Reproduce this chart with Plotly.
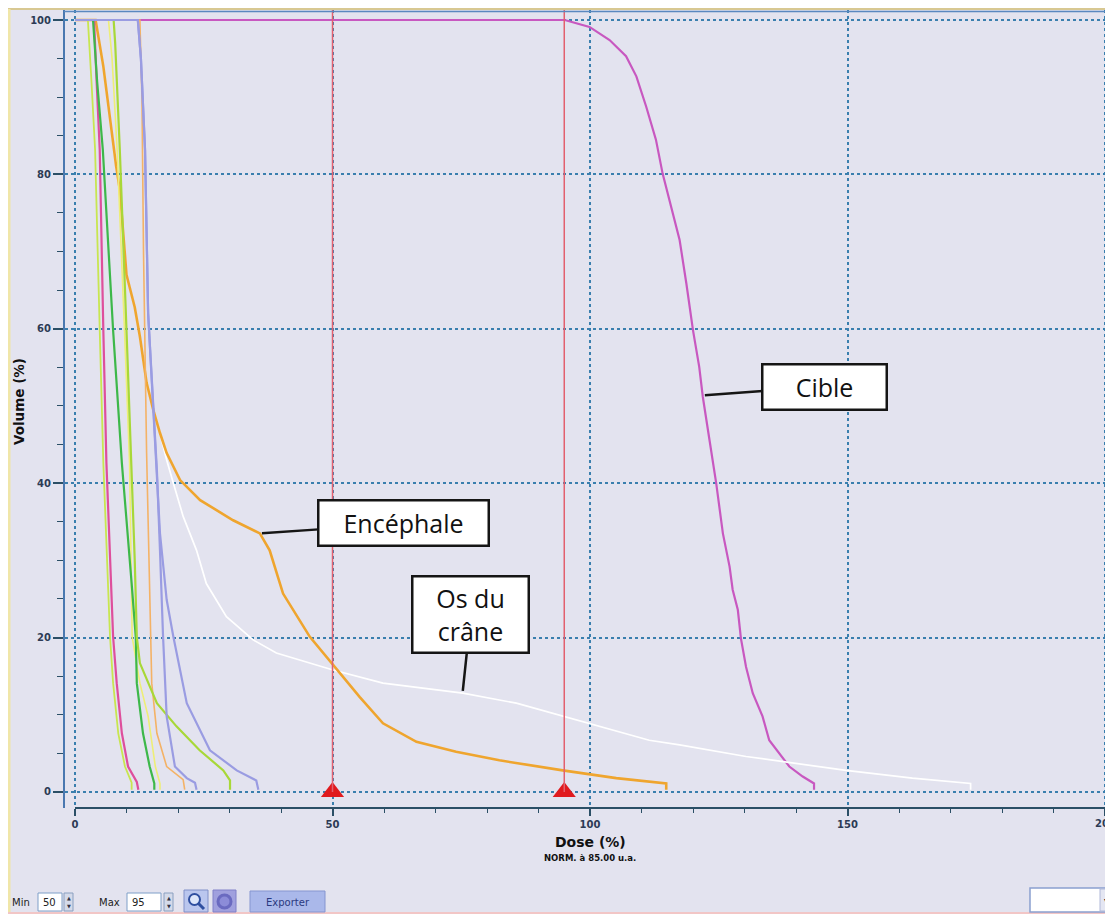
import plotly.graph_objects as go

# ---------------- data ----------------
cible_dose = [0, 95.1, 99.9, 103.8, 107.0, 109.0, 110.9, 112.8, 114.1, 115.4, 117.4, 118.7, 120.0,
              121.2, 121.9, 123.2, 124.5, 125.8, 127.1, 127.7, 128.7, 129.3, 130.3, 131.6, 133.5,
              134.8, 136.8, 138.7, 141.3, 143.5, 143.5]
cible_vol = [100, 100, 99.1, 97.4, 95.3, 92.7, 88.8, 84.5, 80.1, 76.7, 71.5, 65.9, 59.8,
             55.1, 51.2, 45.6, 40.0, 33.5, 29.2, 26.2, 23.6, 19.9, 16.2, 12.8, 9.8,
             6.7, 5.0, 3.3, 2.0, 1.1, 0.3]

enc_dose = [0, 4.0, 5.5, 6.8, 8.0, 8.7, 10.0, 11.6, 12.6, 13.9, 15.2, 16.5, 17.8, 20.4, 24.3,
            30.7, 35.9, 37.8, 40.4, 45.6, 50.1, 55.3, 59.8, 66.3, 74.0, 82.4, 94.7, 105.1, 114.8, 114.8]
enc_vol = [100, 100, 94, 87, 81, 78, 67, 62.8, 59, 53, 49.5, 46.5, 43.9, 40.4, 37.8,
           35.2, 33.5, 31.3, 25.7, 20.1, 16.5, 12.3, 8.9, 6.5, 5.2, 4.1, 2.8, 1.8, 1.1, 0.3]

os_dose = [0, 4.0, 5.5, 6.8, 8.0, 8.7, 10.0, 11.6, 12.6, 13.9, 15.2, 16.5, 17.8, 19.1, 21.0,
           23.6, 25.5, 29.4, 34.6, 39.1, 50.1, 59.8, 75.3, 85.7, 94.7, 101.8, 111.5, 117.4,
           130.3, 149.7, 162.6, 173.9, 173.9]
os_vol = [100, 100, 94, 87, 81, 78, 67, 62.8, 59, 53, 49.5, 46.5, 43.0, 40.0, 35.7,
          31.3, 27.0, 22.7, 19.7, 18.0, 15.8, 14.1, 12.8, 11.5, 9.8, 8.5, 6.7, 6.1,
          4.6, 2.8, 1.8, 1.1, 0.3]

lavb_dose = [0, 12.2, 12.8, 13.6, 14.2, 14.9, 15.5, 15.9, 16.5, 17.8, 19.1, 21.7, 26.2, 31.4, 35.2, 35.6]
lavb_vol = [100, 100, 95, 83.2, 62, 53.0, 46.5, 41.7, 33.5, 24.9, 20.1, 11.5, 5.4, 2.8, 1.5, 0.3]

lava_dose = [0, 12.2, 12.8, 13.6, 14.2, 14.9, 15.5, 15.9, 16.5, 17.1, 17.8, 19.4, 21.7, 23.3, 23.6]
lava_vol = [100, 100, 95, 83.2, 62, 53, 46.5, 41.7, 31.3, 20.1, 9.8, 3.3, 1.8, 1.2, 0.3]

ort_dose = [0, 12.6, 13.0, 13.3, 13.9, 14.6, 14.9, 15.9, 17.8, 21.0, 21.3]
ort_vol = [100, 100, 90, 70, 44, 20.1, 14.1, 7.6, 3.3, 1.6, 0.3]

pink_dose = [0, 3.7, 4.2, 4.8, 5.5, 6.1, 7.4, 8.1, 9.1, 10.3, 12.0, 12.3]
pink_vol = [100, 100, 92, 83.2, 59.8, 42.6, 20.1, 14.1, 7.6, 3.3, 1.3, 0.3]

yg_dose = [0, 2.5, 3.2, 3.9, 4.8, 5.5, 6.8, 7.4, 8.4, 9.7, 11.0, 11.0]
yg_vol = [100, 100, 92, 83.2, 59.8, 42.6, 20.1, 14.1, 7.6, 3.3, 1.2, 0.3]

green_dose = [0, 3.5, 4.3, 5.4, 7.4, 9.1, 11.0, 11.8, 12.0, 13.2, 14.5, 15.4, 15.4]
green_vol = [100, 100, 92, 83.2, 59.8, 42.6, 27, 20.1, 14.1, 7.6, 3.3, 1.1, 0.3]

lime_dose = [0, 7.5, 7.8, 8.7, 10.0, 11.0, 11.6, 12.0, 12.6, 15.9, 19.7, 24.2, 28.8, 30.1, 30.1]
lime_vol = [100, 100, 97, 83.2, 59.8, 42.6, 30, 20.1, 16.7, 11.5, 8.5, 5.4, 2.8, 1.5, 0.3]

yel_dose = [0, 6.5, 7.2, 8.2, 9.6, 10.6, 11.1, 12.6, 14.2, 15.6, 16.5, 16.5]
yel_vol = [100, 100, 95, 83, 60, 42.6, 20.1, 14.1, 9.8, 3.3, 1.1, 0.3]

marker_doses = [50, 95]          # Min / Max markers
marker_vols = [0, 0]
x_tick_step, y_tick_step = 50, 20
x_last_tick = 200

# ---------------- figure ----------------
# the page body has an 8px margin: the figure is drawn 8px right/down
OFF = 8
W, H = 1113 - OFF, 914 - OFF
L, R, T, B = 65 - OFF, 0, 10 - OFF, H - (808 - OFF)
PW, PH = W - L - R, H - T - B


def fx(px):
    """reference screen x pixel -> paper x"""
    return (px - OFF - L) / PW


def fy(py):
    """reference screen y pixel -> paper y"""
    return (H - B - (py - OFF)) / PH


BG = '#E3E3EF'
fig = go.Figure()

curves = [
    ('Cible', cible_dose, cible_vol, '#C858C0', 2.2),
    ('Os du crâne', os_dose, os_vol, '#FFFFFF', 1.7),
    ('Encéphale', enc_dose, enc_vol, '#EFA52E', 2.6),
    ('Orange', ort_dose, ort_vol, '#F4B266', 1.6),
    ('Jaune', yel_dose, yel_vol, '#EEEE77', 1.6),
    ('Vert clair', yg_dose, yg_vol, '#C8E650', 1.8),
    ('Rose', pink_dose, pink_vol, '#DE4F9C', 2.2),
    ('Vert', green_dose, green_vol, '#3DB84A', 2.2),
    ('Lime', lime_dose, lime_vol, '#A8D838', 2.2),
    ('Lavande A', lava_dose, lava_vol, '#9A9CE2', 2.2),
    ('Lavande B', lavb_dose, lavb_vol, '#9A9CE2', 2.2),
]
for name, xs, ys, col, w in curves:
    fig.add_trace(go.Scatter(x=xs, y=ys, mode='lines', name=name,
                             line=dict(color=col, width=w), showlegend=False))

# vertical marker lines
for d in marker_doses:
    fig.add_shape(type='line', xref='x', yref='y', x0=d, x1=d, y0=0, y1=101.3,
                  line=dict(color='#E2606E', width=1.5), layer='above')

fig.add_trace(go.Scatter(x=marker_doses, y=marker_vols, mode='markers', showlegend=False,
                         marker=dict(symbol='triangle-up', size=20, color='#E01A1E'),
                         cliponaxis=False))

tickfont = dict(family='DejaVu Sans', size=10, color='#2D3B55', weight='bold')
gridcol = '#3A7FAE'

fig.update_layout(
    width=W, height=H,
    margin=dict(l=L, r=R, t=T, b=B, pad=0),
    paper_bgcolor=BG, plot_bgcolor=BG,
    showlegend=False,
    xaxis=dict(range=[-1.942, 201.55], dtick=x_tick_step, tick0=0,
               showgrid=True, gridcolor=gridcol, griddash='dot', gridwidth=1.5,
               zeroline=False, showline=False,
               ticks='outside', ticklen=7, tickwidth=1.5, tickcolor='#2B4F66',
               minor=dict(dtick=10, tick0=0, ticks='outside', ticklen=4,
                          tickcolor='#2B4F66', tickwidth=1.2, showgrid=False),
               tickfont=tickfont),
    yaxis=dict(range=[-2.075, 101.295], dtick=y_tick_step, tick0=0,
               showgrid=True, gridcolor=gridcol, griddash='dot', gridwidth=1.5,
               zeroline=False, showline=True, linecolor='#4A78B0', linewidth=2,
               ticks='outside', ticklen=10, tickwidth=1.5, tickcolor='#2B4F66',
               minor=dict(dtick=5, tick0=0, ticks='outside', ticklen=6,
                          tickcolor='#2B4F66', tickwidth=1.2, showgrid=False),
               tickfont=tickfont),
)

# x-axis line (0..200)
fig.add_shape(type='line', xref='x', yref='paper', x0=0, x1=x_last_tick, y0=0, y1=0,
              line=dict(color='#2B4F66', width=1.8), layer='above')
# last tick label (cut off by the window edge in the reference)
fig.add_annotation(x=x_last_tick, y=fy(823), xref='x', yref='paper', text=str(x_last_tick),
                   showarrow=False, xanchor='center', yanchor='middle', font=tickfont)

# frame: tan top line, blue plot-top line, pale-yellow left edge, pink bottom edge
fig.add_shape(type='line', xref='paper', yref='paper', x0=fx(8), x1=fx(1113), y0=fy(9), y1=fy(9),
              line=dict(color='#D8C892', width=2), layer='above')
fig.add_shape(type='line', xref='paper', yref='paper', x0=fx(64), x1=fx(1113), y0=fy(11.5), y1=fy(11.5),
              line=dict(color='#5A88C0', width=1.5), layer='above')
fig.add_shape(type='line', xref='paper', yref='paper', x0=fx(9), x1=fx(9), y0=fy(9), y1=fy(914),
              line=dict(color='#F0E6A8', width=3), layer='above')
fig.add_shape(type='line', xref='paper', yref='paper', x0=fx(8), x1=fx(1113), y0=fy(913), y1=fy(913),
              line=dict(color='#F2C6C6', width=2), layer='above')

# callouts
box = dict(bgcolor='white', bordercolor='#151515', borderwidth=2.5, borderpad=1,
           showarrow=True, arrowhead=0, arrowwidth=2.5, arrowcolor='#151515', standoff=0,
           font=dict(family='Open Sans', size=25, color='#111111'))
fig.add_annotation(x=122.3, y=51.4, text='Cible', ax=120, ay=-8.5, width=120, height=41, **box)
fig.add_annotation(x=36.3, y=33.5, text='Encéphale', ax=142, ay=-10, width=166, height=41, **box)
fig.add_annotation(x=75.3, y=13.1, text='Os du<br>crâne', ax=8, ay=-76, width=112, height=72, **box)


def label(x, y, txt, size=10, color='#222', anchor='center', weight='normal', angle=0):
    fig.add_annotation(x=fx(x), y=fy(y), xref='paper', yref='paper', text=txt,
                       showarrow=False, xanchor=anchor, yanchor='middle', textangle=angle,
                       font=dict(family='DejaVu Sans', size=size, color=color, weight=weight))


# axis titles
label(19, 402, 'Volume (%)', size=13.5, color='#111', weight='bold', angle=-90)
label(590, 842, 'Dose (%)', size=14, color='#111', weight='bold')
label(590, 858, 'NORM. à 85.00 u.a.', size=8.5, color='#111', weight='bold')


# ---------------- bottom control bar ----------------
def rect(x0, y0, x1, y1, fill, line='#7F9FC8', lw=1):
    fig.add_shape(type='rect', xref='paper', yref='paper', x0=fx(x0), x1=fx(x1),
                  y0=fy(y1), y1=fy(y0), fillcolor=fill, line=dict(color=line, width=lw),
                  layer='above')


label(10, 902, 'Min', anchor='left')
rect(38, 893, 62, 911, 'white')
label(41, 902, '50', anchor='left')
rect(64, 893, 73, 911, '#D4DAEA', '#8AA0C0')
label(68.5, 898, '▲', size=5, color='#334')
label(68.5, 906, '▼', size=5, color='#334')
label(97, 902, 'Max', anchor='left')
rect(127, 893, 161, 911, 'white')
label(130, 902, '95', anchor='left')
rect(164, 893, 173, 911, '#D4DAEA', '#8AA0C0')
label(168.5, 898, '▲', size=5, color='#334')
label(168.5, 906, '▼', size=5, color='#334')
# search button
rect(184, 890, 208, 912, '#BAC6EE', '#8090C8')
fig.add_shape(type='circle', xref='paper', yref='paper', x0=fx(189), x1=fx(200),
              y0=fy(905), y1=fy(894), line=dict(color='#2F4FA0', width=2),
              fillcolor='#DDE6FA', layer='above')
fig.add_shape(type='line', xref='paper', yref='paper', x0=fx(198), x1=fx(204),
              y0=fy(903), y1=fy(909), line=dict(color='#2F4FA0', width=3), layer='above')
# second icon button
rect(213, 890, 236, 912, '#A0A0DE', '#8080C8')
fig.add_shape(type='circle', xref='paper', yref='paper', x0=fx(218), x1=fx(231),
              y0=fy(908), y1=fy(895), line=dict(color='#6A6AC0', width=3),
              fillcolor='#8C8CD8', layer='above')
# export button
rect(250, 891, 325, 912, '#AAB8EA', '#8595D0')
label(287.5, 902, 'Exporter', size=10, color='#2A3A80')
# dropdown
rect(1030, 888, 1112, 912, 'white', '#8AA0D0', 1.5)
rect(1100, 889, 1112, 911, '#E4E6F2', '#B0B8D8')
label(1106, 900, '▾', size=10, color='#223')

fig.write_html('out.html')
